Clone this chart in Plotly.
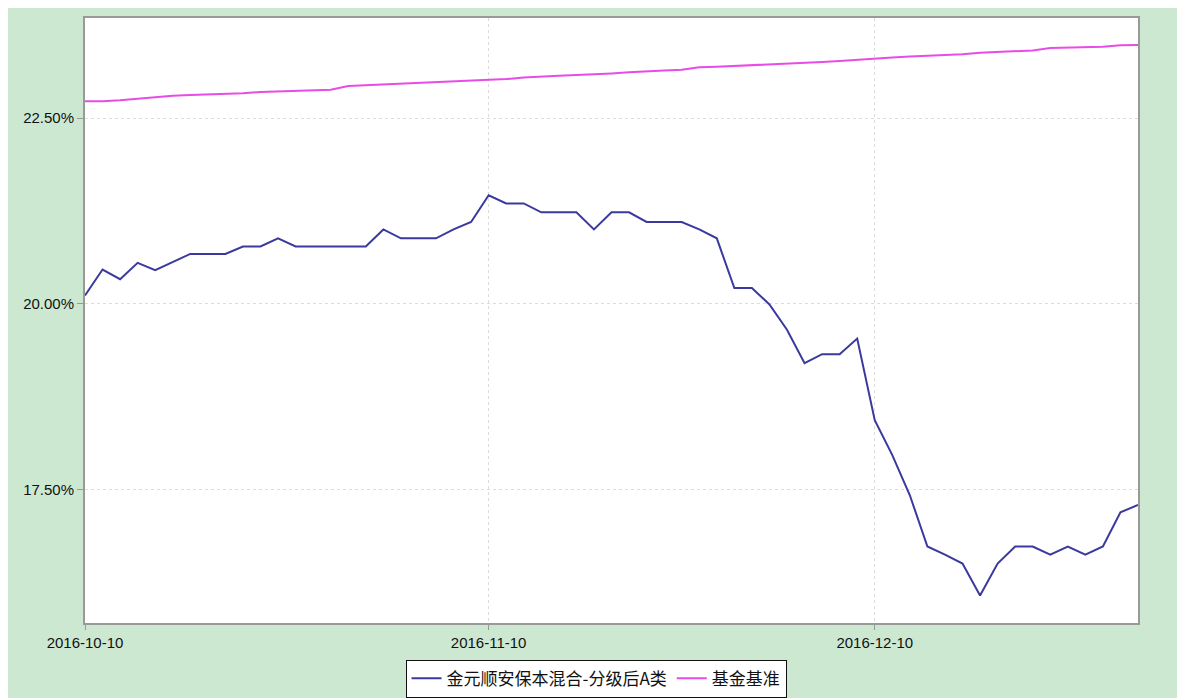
import plotly.graph_objects as go

dates = [
    "2016-10-10", "2016-10-11", "2016-10-12", "2016-10-13", "2016-10-14",
    "2016-10-17", "2016-10-18", "2016-10-19", "2016-10-20", "2016-10-21",
    "2016-10-24", "2016-10-25", "2016-10-26", "2016-10-27", "2016-10-28",
    "2016-10-31", "2016-11-01", "2016-11-02", "2016-11-03", "2016-11-04",
    "2016-11-07", "2016-11-08", "2016-11-09", "2016-11-10", "2016-11-11",
    "2016-11-14", "2016-11-15", "2016-11-16", "2016-11-17", "2016-11-18",
    "2016-11-21", "2016-11-22", "2016-11-23", "2016-11-24", "2016-11-25",
    "2016-11-28", "2016-11-29", "2016-11-30", "2016-12-01", "2016-12-02",
    "2016-12-05", "2016-12-06", "2016-12-07", "2016-12-08", "2016-12-09",
    "2016-12-12", "2016-12-13", "2016-12-14", "2016-12-15", "2016-12-16",
    "2016-12-19", "2016-12-20", "2016-12-21", "2016-12-22", "2016-12-23",
    "2016-12-26", "2016-12-27", "2016-12-28", "2016-12-29", "2016-12-30",
    "2017-01-03",
]

fund_values = [
    20.11, 20.46, 20.33, 20.55, 20.45, 20.56, 20.67, 20.67, 20.67, 20.77,
    20.77, 20.88, 20.77, 20.77, 20.77, 20.77, 20.77, 21.00, 20.88, 20.88,
    20.88, 21.00, 21.10, 21.46, 21.35, 21.35, 21.23, 21.23, 21.23, 21.00,
    21.23, 21.23, 21.10, 21.10, 21.10, 21.00, 20.88, 20.21, 20.21, 19.99,
    19.65, 19.20, 19.32, 19.32, 19.53, 18.43, 17.96, 17.42, 16.73, 16.62,
    16.50, 16.07, 16.50, 16.73, 16.73, 16.62, 16.73, 16.62, 16.73, 17.19,
    17.29,
]

bench_values = [
    22.727, 22.727, 22.740, 22.760, 22.775, 22.800, 22.810, 22.815, 22.825, 22.835,
    22.850, 22.860, 22.865, 22.875, 22.882, 22.930, 22.940, 22.945, 22.955, 22.970,
    22.980, 22.990, 22.998, 23.007, 23.025, 23.045, 23.060, 23.070, 23.080, 23.088,
    23.100, 23.115, 23.130, 23.140, 23.150, 23.183, 23.190, 23.200, 23.207, 23.220,
    23.235, 23.245, 23.255, 23.268, 23.285, 23.304, 23.315, 23.327, 23.336, 23.344,
    23.360, 23.380, 23.390, 23.400, 23.410, 23.443, 23.450, 23.455, 23.460, 23.480,
    23.483,
]

series_names = ["金元顺安保本混合-分级后A类", "基金基准"]
x_tick_positions = ["2016-10-10", "2016-11-10", "2016-12-12"]
x_tick_labels = ["2016-10-10", "2016-11-10", "2016-12-10"]
y_tick_values = [17.5, 20.0, 22.5]
y_tick_labels = ["17.50%", "20.00%", "22.50%"]

FONT = "Liberation Sans, Arial, Noto Sans CJK SC, sans-serif"
GREEN = "#cde8d1"

fig = go.Figure()
fig.add_trace(go.Scatter(x=dates, y=fund_values, mode="lines", name=series_names[0],
                         line=dict(color="#3a3a9e", width=2)))
fig.add_trace(go.Scatter(x=dates, y=bench_values, mode="lines", name=series_names[1],
                         line=dict(color="#e84ce8", width=2)))

fig.update_layout(
    width=1185, height=698,
    margin=dict(l=77, r=55, t=8, b=79),
    paper_bgcolor=GREEN, plot_bgcolor="white",
    font=dict(family=FONT, size=15, color="#111111"),
    showlegend=True,
    legend=dict(orientation="h", x=0.4853, xanchor="center", y=-0.0606, yanchor="top",
                bgcolor="white", bordercolor="#111111", borderwidth=1,
                font=dict(size=17, family="Noto Sans CJK SC, sans-serif"),
                itemwidth=30, tracegroupgap=0),
    xaxis=dict(type="category", range=[0, len(dates) - 1],
               tickmode="array", tickvals=x_tick_positions, ticktext=x_tick_labels,
               showgrid=True, gridcolor="#dcdcdc", griddash="3px,3px", gridwidth=1,
               showline=True, linecolor="#999999", linewidth=2, mirror=True,
               ticks="outside", ticklen=5, tickcolor="#999999",
               tickfont=dict(size=15), zeroline=False),
    yaxis=dict(range=[15.7, 23.847], tickmode="array", tickvals=y_tick_values,
               ticktext=y_tick_labels,
               showgrid=True, gridcolor="#dcdcdc", griddash="3px,3px", gridwidth=1,
               showline=True, linecolor="#999999", linewidth=2, mirror=True,
               ticks="outside", ticklen=6, tickcolor="#999999",
               tickfont=dict(size=15), zeroline=False),
)

fig.write_html("out.html")
